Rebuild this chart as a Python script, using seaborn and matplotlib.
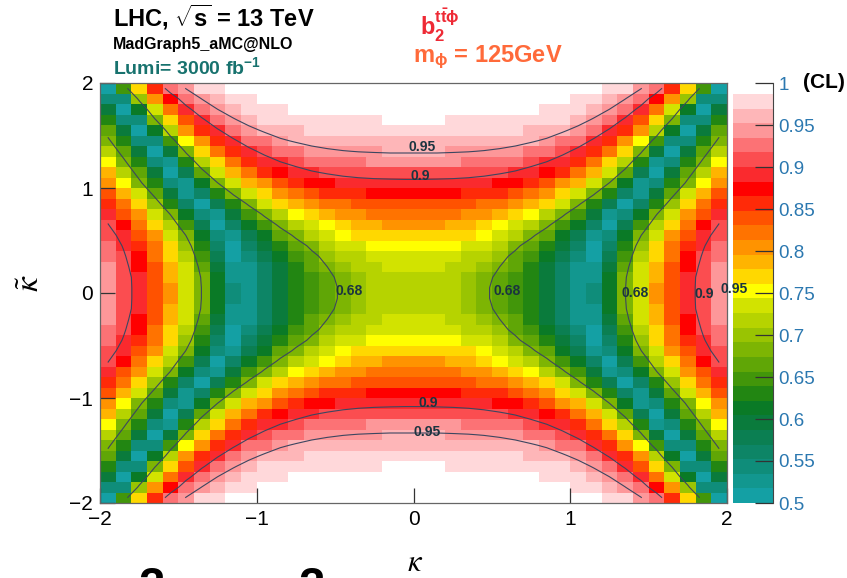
import numpy as np
import pandas as pd
import seaborn as sns
import matplotlib
matplotlib.use("Agg")
import matplotlib.pyplot as plt
from matplotlib.colors import ListedColormap, BoundaryNorm

plt.rcParams['font.family'] = ['Liberation Sans', 'DejaVu Sans']
plt.rcParams['mathtext.fontset'] = 'custom'
plt.rcParams['mathtext.rm'] = 'Liberation Sans'
plt.rcParams['mathtext.it'] = 'Liberation Sans:italic'
plt.rcParams['mathtext.bf'] = 'Liberation Sans:bold'

# ---------------- data ----------------
# cell centres of one quadrant; the map is mirror-symmetric in kappa and kappa~
kappa_centres = [0.05, 0.15, 0.25, 0.35, 0.45, 0.55, 0.65, 0.75, 0.85, 0.95,
                 1.05, 1.15, 1.25, 1.35, 1.45, 1.55, 1.65, 1.75, 1.85, 1.95]
kt_centres = [0.05, 0.15, 0.25, 0.35, 0.45, 0.55, 0.65, 0.75, 0.85, 0.95,
              1.05, 1.15, 1.25, 1.35, 1.45, 1.55, 1.65, 1.75, 1.85, 1.95]
# CL values, rows = kappa~ (ascending), columns = kappa (ascending)
cl_quadrant = [
    [0.719, 0.716, 0.709, 0.699, 0.686, 0.669, 0.648, 0.622, 0.593, 0.559, 0.520, 0.537, 0.609, 0.678, 0.741, 0.797, 0.845, 0.885, 0.917, 0.942],
    [0.723, 0.720, 0.713, 0.703, 0.690, 0.672, 0.651, 0.626, 0.596, 0.562, 0.523, 0.533, 0.606, 0.675, 0.738, 0.795, 0.843, 0.884, 0.916, 0.941],
    [0.731, 0.728, 0.721, 0.711, 0.698, 0.680, 0.659, 0.633, 0.603, 0.569, 0.530, 0.522, 0.595, 0.665, 0.729, 0.787, 0.837, 0.878, 0.911, 0.938],
    [0.743, 0.740, 0.733, 0.723, 0.710, 0.692, 0.670, 0.645, 0.614, 0.579, 0.539, 0.507, 0.581, 0.651, 0.717, 0.776, 0.827, 0.870, 0.905, 0.933],
    [0.758, 0.755, 0.749, 0.740, 0.727, 0.710, 0.688, 0.662, 0.631, 0.595, 0.554, 0.508, 0.562, 0.634, 0.701, 0.762, 0.815, 0.860, 0.897, 0.927],
    [0.777, 0.775, 0.770, 0.761, 0.749, 0.734, 0.713, 0.688, 0.657, 0.620, 0.577, 0.527, 0.537, 0.609, 0.678, 0.741, 0.797, 0.845, 0.885, 0.917],
    [0.798, 0.796, 0.792, 0.785, 0.775, 0.760, 0.742, 0.718, 0.689, 0.652, 0.609, 0.558, 0.500, 0.573, 0.644, 0.711, 0.770, 0.822, 0.866, 0.902],
    [0.820, 0.819, 0.816, 0.811, 0.802, 0.790, 0.773, 0.751, 0.723, 0.688, 0.645, 0.594, 0.533, 0.537, 0.609, 0.678, 0.741, 0.797, 0.845, 0.885],
    [0.845, 0.844, 0.841, 0.837, 0.830, 0.820, 0.805, 0.786, 0.761, 0.729, 0.688, 0.638, 0.578, 0.508, 0.566, 0.637, 0.704, 0.765, 0.818, 0.862],
    [0.869, 0.868, 0.867, 0.863, 0.858, 0.849, 0.838, 0.821, 0.799, 0.771, 0.734, 0.687, 0.627, 0.556, 0.522, 0.595, 0.665, 0.729, 0.787, 0.837],
    [0.893, 0.892, 0.891, 0.889, 0.885, 0.878, 0.868, 0.855, 0.837, 0.812, 0.779, 0.736, 0.680, 0.611, 0.528, 0.552, 0.623, 0.691, 0.753, 0.808],
    [0.915, 0.915, 0.914, 0.912, 0.909, 0.904, 0.897, 0.886, 0.871, 0.850, 0.821, 0.782, 0.731, 0.664, 0.579, 0.515, 0.588, 0.658, 0.723, 0.781],
    [0.935, 0.935, 0.935, 0.933, 0.931, 0.927, 0.921, 0.912, 0.900, 0.883, 0.858, 0.824, 0.778, 0.716, 0.635, 0.534, 0.552, 0.623, 0.691, 0.753],
    [0.953, 0.953, 0.952, 0.951, 0.949, 0.946, 0.941, 0.934, 0.925, 0.910, 0.890, 0.861, 0.821, 0.765, 0.690, 0.593, 0.515, 0.588, 0.658, 0.723],
    [0.967, 0.967, 0.967, 0.966, 0.965, 0.962, 0.959, 0.953, 0.946, 0.934, 0.918, 0.894, 0.861, 0.812, 0.744, 0.654, 0.539, 0.552, 0.623, 0.691],
    [0.978, 0.978, 0.978, 0.978, 0.976, 0.975, 0.972, 0.968, 0.963, 0.954, 0.942, 0.923, 0.896, 0.856, 0.797, 0.715, 0.605, 0.515, 0.588, 0.658],
    [0.988, 0.988, 0.987, 0.986, 0.985, 0.984, 0.982, 0.980, 0.976, 0.970, 0.961, 0.947, 0.926, 0.894, 0.845, 0.774, 0.674, 0.544, 0.552, 0.623],
    [0.992, 0.992, 0.992, 0.992, 0.991, 0.991, 0.990, 0.988, 0.985, 0.981, 0.975, 0.965, 0.950, 0.926, 0.888, 0.829, 0.741, 0.619, 0.515, 0.588],
    [0.996, 0.996, 0.996, 0.996, 0.995, 0.995, 0.994, 0.993, 0.992, 0.989, 0.985, 0.979, 0.969, 0.951, 0.923, 0.876, 0.803, 0.695, 0.549, 0.552],
    [0.998, 0.998, 0.998, 0.998, 0.998, 0.997, 0.997, 0.996, 0.996, 0.994, 0.992, 0.988, 0.982, 0.971, 0.952, 0.920, 0.864, 0.777, 0.648, 0.507],
]
contour_levels = [0.68, 0.9, 0.95]
axis_ticks = [-2, -1, 0, 1, 2]
cbar_ticks = [0.5, 0.55, 0.6, 0.65, 0.7, 0.75, 0.8, 0.85, 0.9, 0.95, 1.0]
# palette bands, bottom (CL=0.5) to top
band_colors = [
    '#14a0a4', '#12978f', '#0f8d7a', '#0d8566', '#0b7f52', '#0a7b3c', '#0a7a26',
    '#228612', '#42960a', '#60a606', '#7db503', '#99c402', '#b6d300', '#d2e300',
    '#ffff00', '#ffd800', '#ffb400', '#ff9300', '#ff7300', '#ff5200', '#ff2a08',
    '#ff0000', '#fa2a2e', '#fb4d50', '#fc7275', '#fd9799', '#feb6b8', '#ffd8da',
]
cl_min, cl_top = 0.5, 0.987

# ---------------- assemble full map ----------------
Q = np.array(cl_quadrant)
full = np.vstack([np.hstack([Q[::-1, ::-1], Q[::-1, :]]),
                  np.hstack([Q[:, ::-1], Q])])
rows = [k for k in reversed(kt_centres)] + [-k for k in kt_centres]
cols = [-k for k in reversed(kappa_centres)] + list(kappa_centres)
df = pd.DataFrame(full, index=rows, columns=cols)
M, N = full.shape

levels = np.linspace(cl_min, cl_top, len(band_colors) + 1)
cmap = ListedColormap(band_colors)
norm = BoundaryNorm(levels, cmap.N)

W, H = 847, 578
fig = plt.figure(figsize=(W / 100, H / 100), dpi=100)
ax = fig.add_axes([100 / W, 75 / H, 627 / W, 420 / H])
ax.set_zorder(3)

sns.heatmap(df, ax=ax, cmap=cmap, norm=norm, mask=(df > cl_top),
            cbar=False, xticklabels=False, yticklabels=False)

def xp(k):
    return (k + 2) / 4 * N

def yp(t):
    return (2 - t) / 4 * M

Xc = np.arange(N) + 0.5
Yc = np.arange(M) + 0.5
ax.contour(Xc, Yc, full, levels=contour_levels, colors='#3c4660', linewidths=0.8)

lab_style = dict(fontsize=10, fontweight='bold', color='#1b3440', va='center', ha='left')
for txt, k, t in [('0.95', -0.03, 1.39), ('0.9', -0.02, 1.11), ('0.9', 0.03, -1.05),
                  ('0.95', 0.0, -1.32), ('0.68', -0.50, 0.02), ('0.68', 0.51, 0.02),
                  ('0.68', 1.33, 0.0), ('0.9', 1.79, -0.01), ('0.95', 1.96, 0.04)]:
    ax.text(xp(k), yp(t), txt, clip_on=False, zorder=6, **lab_style)

for s in ax.spines.values():
    s.set_visible(True)
    s.set_color('#666666')
    s.set_linewidth(0.9)
ax.set_xlim(0, N)
ax.set_ylim(M, 0)
ax.set_xticks([xp(v) for v in axis_ticks])
ax.set_xticklabels([str(v).replace('-', '\u2212') for v in axis_ticks])
ax.set_yticks([yp(v) for v in axis_ticks])
ax.set_yticklabels([str(v).replace('-', '\u2212') for v in axis_ticks], rotation=0)
ax.tick_params(direction='in', length=11, width=0.9, color='#333333',
               labelsize=15, pad=5, bottom=True, left=True, top=False, right=False)
ax.set_xlabel('')
ax.set_ylabel('')
fig.text(415 / W, 1 - 563 / H, r'$\kappa$', fontsize=22, math_fontfamily='stix',
         ha='center', va='center')
fig.text(30 / W, 1 - 283 / H, r'$\tilde{\kappa}$', fontsize=24, math_fontfamily='stix',
         ha='center', va='center', rotation=90)

# ---------------- colour bar ----------------
cax = fig.add_axes([733 / W, 75 / H, 40 / W, 420 / H])
cax.pcolormesh([0, 1], levels, np.array(levels[:-1])[:, None], cmap=cmap, norm=norm)
cax.set_xlim(0, 1)
cax.set_ylim(0.5, 1.0)
cax.set_xticks([])
for side in ['left', 'top', 'bottom']:
    cax.spines[side].set_visible(False)
cax.spines['right'].set_color('#444444')
cax.yaxis.tick_right()
cax.set_yticks(cbar_ticks)
cax.set_yticklabels(['%g' % v for v in cbar_ticks])
cax.tick_params(axis='y', direction='in', length=13, width=0.9, color='#333333',
                labelsize=13.5, labelcolor='#2b78b0', pad=4)
fig.text(803 / W, 1 - 83 / H, '(CL)', fontsize=15, fontweight='bold', va='center')

# ---------------- header texts ----------------
fig.text(113 / W, 1 - 17 / H, r'LHC, $\mathbf{\sqrt{s}}$ = 13 TeV', fontsize=17,
         fontweight='bold', va='center')
fig.text(113 / W, 1 - 44 / H, 'MadGraph5_aMC@NLO', fontsize=11.5, fontweight='bold', va='center')
fig.text(113 / W, 1 - 67 / H, r'Lumi= 3000 fb$^{\mathbf{-1}}$', fontsize=14,
         fontweight='bold', va='center', color='#17726e')
fig.text(420 / W, 1 - 25 / H, r'$\mathbf{b_{2}^{t\bar{t}\phi}}$', fontsize=17,
         color='#ee2a35', va='center')
fig.text(413 / W, 1 - 57 / H, r'$\mathbf{m_{\phi}}$ = 125GeV', fontsize=17,
         fontweight='bold', color='#ff6a3a', va='center')

# cut-off glyphs at the bottom edge
fig.text(152 / W, 1 - 566 / H, '2', fontsize=34, fontweight='bold', va='top', ha='center')
fig.text(311 / W, 1 - 566 / H, '2', fontsize=34, fontweight='bold', va='top', ha='center')

fig.savefig('out.png', dpi=100)
